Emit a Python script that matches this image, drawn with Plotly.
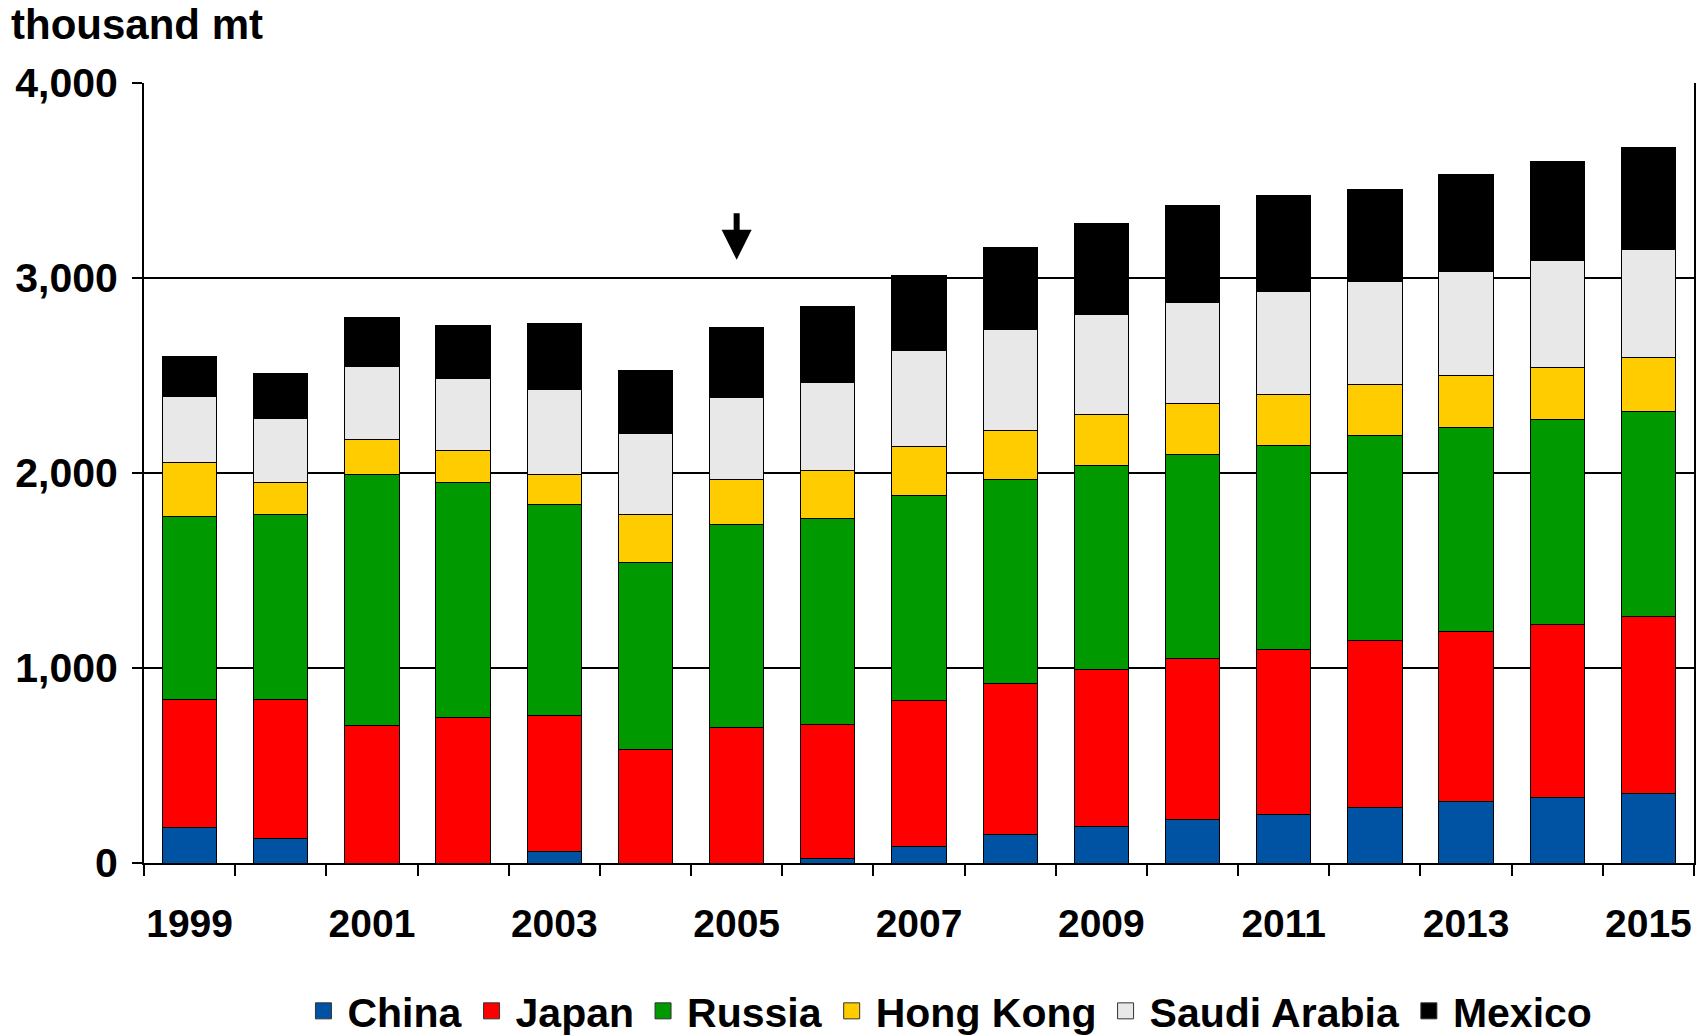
import plotly.graph_objects as go

years = list(range(1999, 2016))
china = [184, 128, 0, 0, 61, 0, 0, 22, 83, 145, 189, 223, 250, 284, 314, 335, 359]
japan = [656, 712, 707, 745, 696, 584, 695, 690, 751, 773, 801, 828, 846, 856, 873, 888, 906]
russia = [935, 946, 1285, 1208, 1084, 957, 1041, 1057, 1052, 1051, 1046, 1046, 1046, 1052, 1048, 1051, 1048]
hong_kong = [278, 167, 178, 161, 151, 245, 233, 245, 250, 251, 262, 262, 261, 261, 267, 267, 278]
saudi_arabia = [339, 328, 378, 373, 434, 417, 418, 451, 490, 517, 517, 517, 529, 529, 532, 550, 553]
mexico = [206, 228, 250, 272, 339, 323, 361, 389, 389, 417, 462, 495, 489, 473, 495, 509, 524]

series = [
    ("China", china, "#0052A3"),
    ("Japan", japan, "#FF0000"),
    ("Russia", russia, "#009900"),
    ("Hong Kong", hong_kong, "#FFCC00"),
    ("Saudi Arabia", saudi_arabia, "#E8E8E8"),
    ("Mexico", mexico, "#000000"),
]

label_years = [y for y in years if y % 2 == 1]
boundaries = [y - 0.5 for y in years] + [years[-1] + 0.5]

FONT = "Liberation Sans, Arial, sans-serif"

fig = go.Figure()
for name, vals, col in series:
    fig.add_trace(go.Bar(
        x=years, y=vals, name=name, showlegend=False,
        marker=dict(color=col, line=dict(color="#000000", width=1)),
    ))
# legend entries with square swatches
for name, vals, col in series:
    fig.add_trace(go.Scatter(
        x=[None], y=[None], name=name, mode="markers",
        marker=dict(symbol="square", size=24, color=col,
                    line=dict(color="#333333", width=1)),
    ))

fig.update_layout(
    width=1699, height=1035,
    template="none",
    barmode="stack", bargap=0.405,
    paper_bgcolor="white", plot_bgcolor="white",
    margin=dict(l=144, r=5, t=83, b=172, autoexpand=False),
    font=dict(family=FONT, size=40, color="#000000", weight="bold"),
    showlegend=True,
    legend=dict(
        orientation="h", traceorder="normal",
        x=0.519, xanchor="center", y=-0.19, yanchor="middle",
        font=dict(family=FONT, size=41, color="#000000", weight="bold"),
        itemwidth=38,
    ),
    xaxis=dict(
        range=[1998.5, 2015.5], automargin=False,
        tickmode="array", tickvals=label_years,
        ticktext=[str(y) for y in label_years],
        ticks="", showgrid=False, zeroline=False,
        showline=True, linecolor="#000000", linewidth=2,
        tickfont=dict(family=FONT, size=39, color="#000000", weight="bold"),
        ticklabelstandoff=25,
        minor=dict(tickmode="array", tickvals=boundaries, ticks="outside",
                   ticklen=11, tickwidth=2, tickcolor="#000000", showgrid=False),
    ),
    yaxis=dict(
        range=[0, 4000], tickmode="array", tickvals=[0, 1000, 2000, 3000, 4000],
        tickformat=",d", automargin=False,
        ticks="outside", ticklen=10, tickwidth=2, tickcolor="#000000",
        showgrid=True, gridcolor="#000000", gridwidth=1.5,
        zeroline=False,
        showline=True, linecolor="#000000", linewidth=2, mirror=True,
        tickfont=dict(family=FONT, size=41, color="#000000", weight="bold"),
        ticklabelstandoff=6,
    ),
)

fig.add_annotation(
    text="thousand mt", xref="paper", yref="paper",
    x=-0.0865, y=1.0744, xanchor="left", yanchor="middle",
    showarrow=False, borderpad=0,
    font=dict(family=FONT, size=42, color="#000000", weight="bold"),
)

fig.add_annotation(
    x=2005, y=3093, xref="x", yref="y", text="",
    showarrow=True, arrowhead=2, arrowsize=1.0, arrowwidth=6,
    arrowcolor="#000000", ax=0, ay=-48,
)

# remove the default page margin so the figure fills the window exactly
fig.write_html(
    "out.html",
    config={"displayModeBar": False},
    post_script="document.body.style.margin='0';document.body.style.overflow='hidden';",
)
